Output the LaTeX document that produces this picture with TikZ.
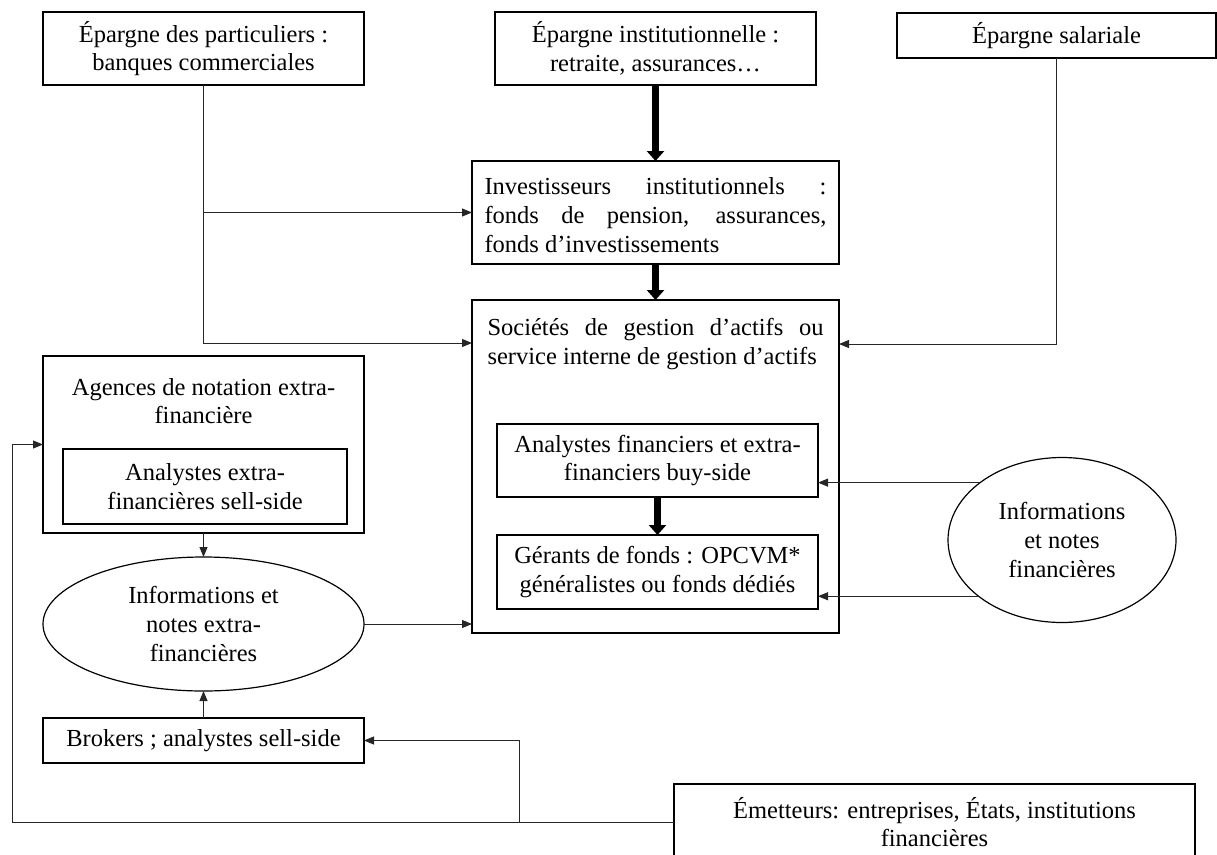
\documentclass[tikz,border=0pt]{standalone}
\usepackage{fontspec}
\setmainfont{Liberation Serif}
\usetikzlibrary{shapes.geometric,arrows.meta,calc}
\newcommand\dgf{\fontsize{24.5}{28.7}\selectfont}
\begin{document}
\begin{tikzpicture}[x=1pt,y=-1pt,
  box/.style={draw, line width=1.2pt, rectangle, inner sep=0pt, outer sep=0pt, align=center, font=\dgf},
  ell/.style={draw, line width=1.2pt, ellipse, inner sep=0pt, outer sep=0pt, align=center, font=\dgf},
  txt/.style={inner sep=0pt, font=\dgf},
  thin/.style={draw=black!85, line width=0.9pt},
  arr/.style={thin, -{Triangle[width=8pt,length=10pt]}},
  big/.style={line width=6.5pt, -{Triangle[width=17pt,length=10pt]}}
]
\clip (0,0) rectangle (1217,854);
% top boxes
\node[box, minimum width=321pt, minimum height=73pt] (b1) at (203.5,48.5) {Épargne des particuliers :\\banques commerciales};
\node[box, minimum width=321pt, minimum height=73pt] (b2) at (655.5,48.5) {Épargne institutionnelle :\\retraite, assurances…};
\node[box, minimum width=319pt, minimum height=45pt] (b3) at (1056.5,35.5) {Épargne salariale};
% investisseurs
\node[box, minimum width=367pt, minimum height=103pt] (inv) at (655.5,212.5) {};
\node[txt, text width=342pt, align=justify] (invt) at (655.5,215) {Investisseurs institutionnels :\linebreak fonds de pension, assurances,\linebreak fonds d’investissements};
% societes
\node[box, minimum width=367pt, minimum height=333pt] (soc) at (655.5,466.5) {};
\node[txt, text width=336pt, align=justify] (soct) at (655.5,344) {Sociétés de gestion d’actifs ou\linebreak service interne de gestion d’actifs};
\node[box, minimum width=321pt, minimum height=73pt] (anf) at (657.5,460.5) {Analystes financiers et extra-\\financiers buy-side};
\node[box, minimum width=321pt, minimum height=74pt] (ger) at (657.5,572) {Gérants de fonds : OPCVM*\\généralistes ou fonds dédiés};
% right ellipse
\node[ell, minimum width=228pt, minimum height=165pt] (ellR) at (1062,540) {Informations\\et notes\\financières};
% agences
\node[box, minimum width=321pt, minimum height=177pt] (ag) at (203.5,444.5) {};
\node[txt, align=center] (agt) at (203.5,401) {Agences de notation extra-\\financière};
\node[box, minimum width=284pt, minimum height=75pt] (agi) at (205,486.5) {Analystes extra-\\financières sell-side};
% left ellipse
\node[ell, minimum width=321pt, minimum height=134pt] (ellL) at (203.5,624) {Informations et\\notes extra-\\financières};
% brokers
\node[box, minimum width=321pt, minimum height=45pt] (brk) at (203.5,740.5) {Brokers ; analystes sell-side};
% emetteurs
\node[box, minimum width=521pt, minimum height=76pt] (em) at (934.5,822) {Émetteurs: entreprises, États, institutions\\financières};
% thick arrows
\draw[big] (b2.south) -- (inv.north);
\draw[big] (inv.south) -- (soc.north);
\draw[big] (anf.south) -- (ger.north);
% thin connectors
\draw[arr] (b1.south) |- ($(soc.north west)+(0,43)$);
\draw[arr] (b1.south |- inv.west) -- (inv.west);
\draw[arr] (b3.south) |- ($(soc.north east)+(0,44)$);
\draw[arr] (ellR.145.3) -- (ellR.145.3 -| anf.east);
\draw[arr] (ellR.214.7) -- (ellR.214.7 -| ger.east);
\draw[arr] (ellL.east) -- (ellL.east -| soc.west);
\draw[arr] (ag.south) -- (ellL.north);
\draw[arr] (brk.north) -- (ellL.south);
\coordinate (j) at ($(em.west)+(-155,0)$);
\coordinate (lc) at ($(ag.west)+(-31,0)$);
\draw[arr] (em.west) -| (lc) -- (ag.west);
\draw[arr] (j) |- (brk.east);
\end{tikzpicture}
\end{document}
